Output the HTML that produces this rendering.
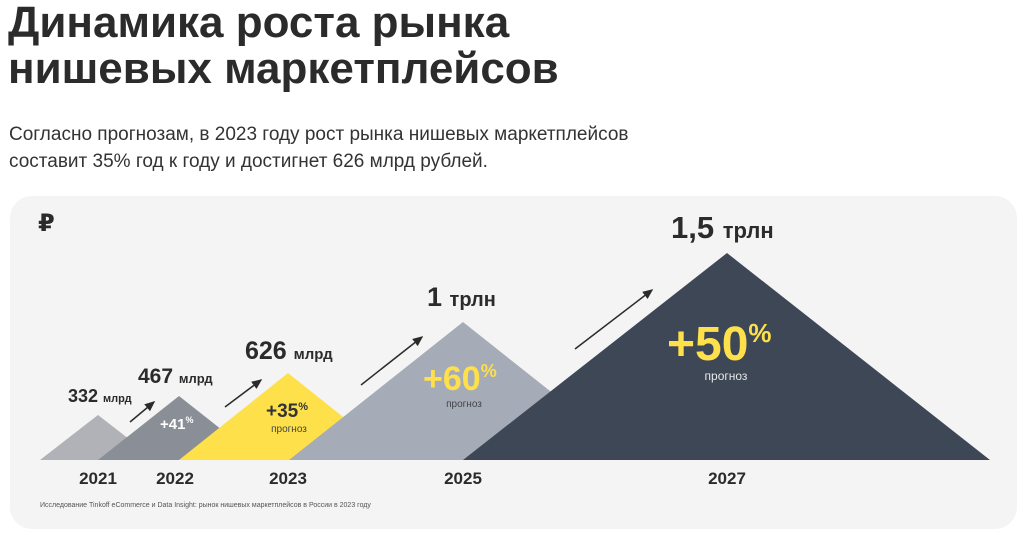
<!DOCTYPE html>
<html><head><meta charset="utf-8"><style>
body{margin:0;width:1029px;height:535px;background:#fff;font-family:"Liberation Sans","DejaVu Sans",sans-serif;overflow:hidden;position:relative;color:#2b2b2b}
h1{position:absolute;left:8px;top:0px;margin:0;font-size:44px;line-height:46px;font-weight:bold;color:#2b2b2b;letter-spacing:0}
.sub{position:absolute;left:9px;top:121px;font-size:19px;line-height:27px;color:#333}
.card{position:absolute;left:10px;top:196px;width:1007px;height:333px;background:#f4f4f4;border-radius:22px}
</style></head><body>
<h1>Динамика роста рынка<br>нишевых маркетплейсов</h1>
<div class="sub">Согласно прогнозам, в 2023 году рост рынка нишевых маркетплейсов<br>составит 35% год к году и достигнет 626 млрд рублей.</div>
<div class="card"></div>
<svg width="1029" height="535" style="position:absolute;left:0;top:0" font-family="Liberation Sans, DejaVu Sans, sans-serif">
<defs><marker id="a" markerWidth="8" markerHeight="8" refX="6" refY="3" orient="auto"><path d="M0,0 L7,3 L0,6 z" fill="#2b2b2b"/></marker></defs>
<text x="38" y="231" font-size="24" font-weight="bold" fill="#2b2b2b">₽</text>
<polygon points="40,460 98,415 156,460" fill="#b0b2b7"/>
<polygon points="98,460 179,396 260,460" fill="#8a8f97"/>
<polygon points="179,460 288,373 397,460" fill="#fde04a"/>
<polygon points="289,460 463,322 637,460" fill="#a5acb8"/>
<polygon points="463,460 727,253 990,460" fill="#3e4756"/>
<g stroke="#2b2b2b" stroke-width="1.5" marker-end="url(#a)">
<line x1="130" y1="422" x2="154" y2="402"/>
<line x1="225" y1="407" x2="261" y2="380"/>
<line x1="361" y1="385" x2="422" y2="337"/>
<line x1="575" y1="349" x2="652" y2="290"/>
</g>
<g font-weight="bold" fill="#2b2b2b">
<text x="68" y="402" font-size="18">332 <tspan font-size="11">млрд</tspan></text>
<text x="138" y="383" font-size="21">467 <tspan font-size="13">млрд</tspan></text>
<text x="245" y="359" font-size="25">626 <tspan font-size="15">млрд</tspan></text>
<text x="427" y="306" font-size="27">1 <tspan font-size="20">трлн</tspan></text>
<text x="671" y="238" font-size="31">1,5 <tspan font-size="22">трлн</tspan></text>
<g font-size="17" text-anchor="middle">
<text x="98" y="484">2021</text><text x="175" y="484">2022</text><text x="288" y="484">2023</text><text x="463" y="484">2025</text><text x="727" y="484">2027</text>
</g>
</g>
<text x="160" y="429" font-size="15" font-weight="bold" fill="#fff">+41<tspan font-size="9" dy="-6">%</tspan></text>
<text x="266" y="417" font-size="19" font-weight="bold" fill="#333">+35<tspan font-size="11" dy="-7">%</tspan></text>
<text x="289" y="432" font-size="10" fill="#444" text-anchor="middle">прогноз</text>
<text x="423" y="390" font-size="34" font-weight="bold" fill="#fde04a">+60<tspan font-size="18" dy="-13">%</tspan></text>
<text x="464" y="407" font-size="10" fill="#444" text-anchor="middle">прогноз</text>
<text x="667" y="360" font-size="48" font-weight="bold" fill="#fde04a">+50<tspan font-size="26" dy="-18">%</tspan></text>
<text x="726" y="380" font-size="12" fill="#e8e8e8" text-anchor="middle">прогноз</text>
<text x="40" y="507" font-size="7" fill="#555">Исследование Tinkoff eCommerce и Data Insight: рынок нишевых маркетплейсов в России в 2023 году</text>
</svg>
</body></html>
